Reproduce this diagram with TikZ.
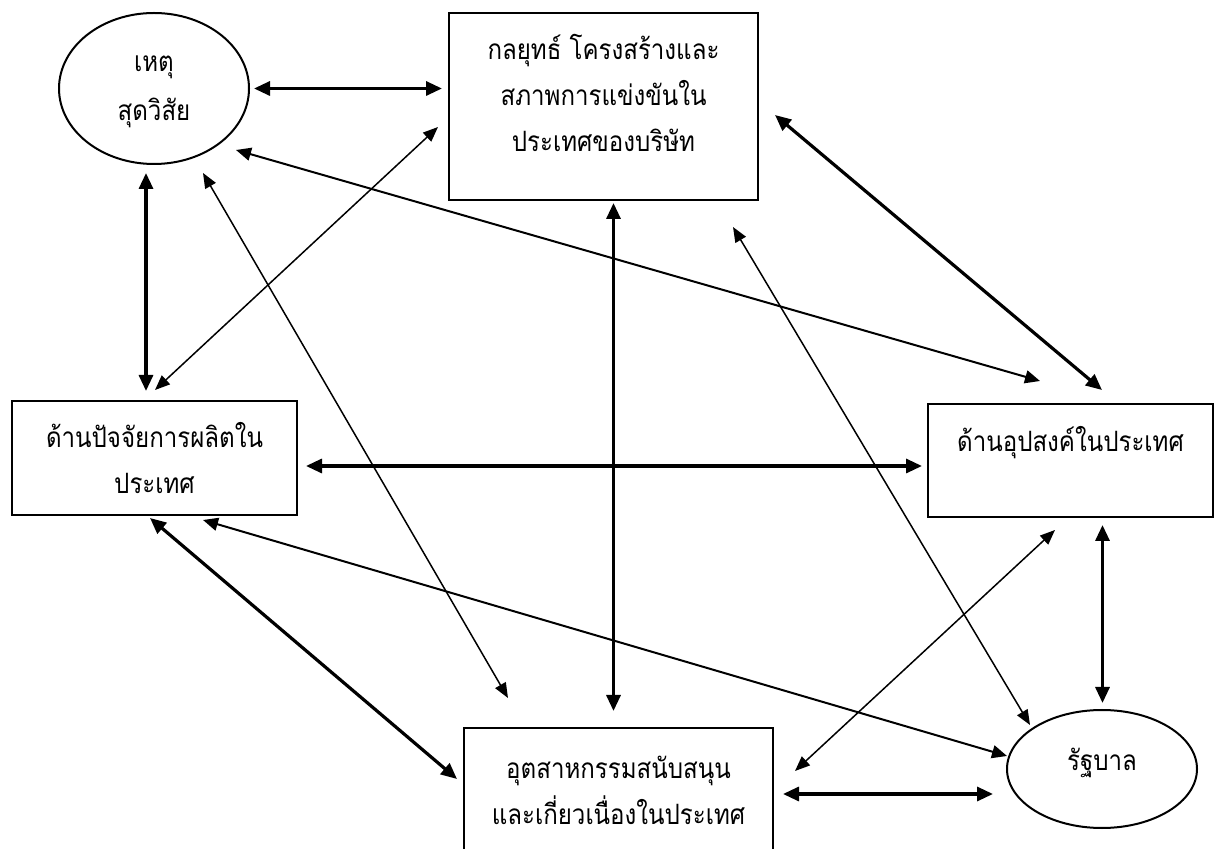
\documentclass[tikz,border=0pt]{standalone}
\usepackage{fontspec}
\newfontfamily\thaifont[Script=Thai, FakeStretch=0.86]{Loma}
\usetikzlibrary{arrows.meta, shapes.geometric, calc}

\begin{document}
\begin{tikzpicture}[
        x=0.5pt, y=-0.5pt,
        every node/.style={font=\thaifont\fontsize{14}{23}\selectfont},
        boxnode/.style={draw, rectangle, line width=1pt, inner sep=0pt,
                        outer sep=0pt, align=center},
        ovalnode/.style={draw, ellipse, line width=1pt, inner sep=0pt,
                         outer sep=0pt, align=center},
        thickarr/.style={>={Triangle[length=8pt,width=7pt]}, <->, line width=1.6pt},
        midarr/.style={>={Triangle[length=7.5pt,width=6.5pt]}, <->, line width=1pt},
        thinarr/.style={>={Triangle[length=7.5pt,width=6pt]}, <->, line width=0.75pt}
    ]
        \useasboundingbox (0,0) rectangle (1216,849);
        \clip (0,0) rectangle (1216,849);

        % factors
        \node[ovalnode, minimum width=95pt, minimum height=75.5pt,
              font=\thaifont\fontsize{14}{24.5}\selectfont, text depth=0pt]
            (force) at (154, 88.5) {เหตุ\\สุดวิสัย};
        \node[boxnode, minimum width=154.5pt, minimum height=93.5pt, text depth=14pt]
            (strategy) at (603.5, 106.5) {กลยุทธ์ โครงสร้างและ\\สภาพการแข่งขันใน\\ประเทศของบริษัท};
        \node[boxnode, minimum width=142.5pt, minimum height=57pt]
            (factor) at (154.5, 458) {ด้านปัจจัยการผลิตใน\\ประเทศ};
        \node[boxnode, minimum width=142.5pt, minimum height=56.5pt, text depth=22pt]
            (demand) at (1070.5, 460.5) {ด้านอุปสงค์ในประเทศ};
        \node[boxnode, minimum width=154.5pt, minimum height=62pt]
            (support) at (618.5, 790) {อุตสาหกรรมสนับสนุน\\และเกี่ยวเนื่องในประเทศ};
        \node[ovalnode, minimum width=95pt, minimum height=59pt, text depth=10pt]
            (gov) at (1102, 769) {รัฐบาล};

        % links
        \draw[thickarr] ($(force.east)+(5,0)$) -- ($(strategy.west|-force.east)+(-7,0)$);
        \draw[thickarr] ($(force.south)+(-8,9)$) -- ($(factor.north)+(-8.5,-10)$);
        \draw[thinarr] ($(strategy.west)+(-11,20.5)$) -- ($(factor.north)+(0.5,-11)$);
        \draw[thinarr] ($(force.south)+(49,9)$) -- ($(support.north)+(-110.5,-30)$);
        \draw[midarr] ($(force.center)+(82,61.5)$) -- ($(demand.north)+(-30.5,-23)$);
        \draw[thickarr] ($(strategy.east)+(17,8.5)$) -- ($(demand.north)+(31.5,-14)$);
        \draw[thickarr] ($(strategy.south)+(10,3)$) -- ($(support.north)+(-5,-17)$);
        \draw[thinarr] ($(strategy.south east)+(-25,27)$) -- ($(gov.center)+(-72,-44)$);
        \draw[thickarr] ($(factor.east)+(9,8)$) -- ($(demand.west)+(-6,5.5)$);
        \draw[thickarr] ($(factor.south)+(-4.5,3)$) -- ($(support.west)+(-7,-11)$);
        \draw[midarr] ($(factor.south)+(48.5,5)$) -- ($(gov.west)+(0,-13)$);
        \draw[thickarr] ($(demand.south)+(32,8)$) -- ($(gov.north)+(0.5,-7)$);
        \draw[thinarr] ($(demand.south)+(-15.5,13)$) -- ($(support.east)+(22,-19)$);
        \draw[thickarr] ($(support.east)+(10,4)$) -- ($(gov.west)+(-14,25)$);
    \end{tikzpicture}
\end{document}
